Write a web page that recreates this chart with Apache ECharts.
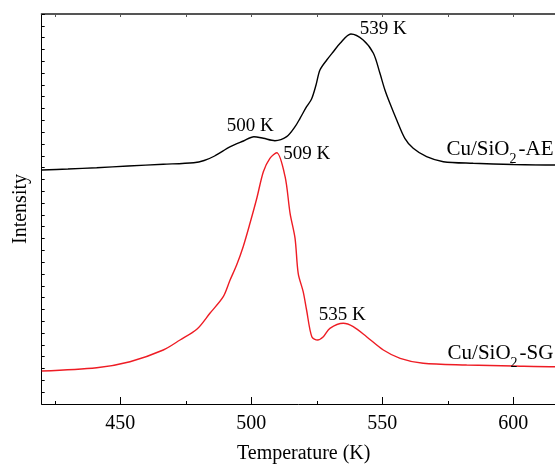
<!DOCTYPE html>
<html>
<head>
<meta charset="utf-8">
<script src="https://cdn.jsdelivr.net/npm/echarts@6/dist/echarts.min.js"></script>
<style>
html,body{margin:0;padding:0;background:#fff;}
#chart{width:555px;height:464px;}
</style>
</head>
<body>
<div id="chart"></div>
<script>
// ---- data ----
const xTickLabels = [450, 500, 550, 600];

const temperatureAE = [420, 430, 441, 453, 466.4, 478, 482, 486, 492, 497, 501, 504.6, 509, 513.5, 516.7, 518.6, 521.1, 523, 524.7, 526.2, 528.8, 531.3, 533.9, 538, 542.7, 546.6, 549.1, 551, 552.9, 555.5, 558.6, 561.8, 566.9, 573.3, 584.7, 600, 616, 620];
const intensityAE   = [234, 235, 236.3, 238, 239.7, 241.3, 243.5, 248, 257.3, 263, 267.3, 265.7, 263.3, 267.3, 277.3, 285.7, 297.3, 305, 319, 334, 344, 352.3, 360.7, 370, 364, 350.7, 330.7, 314, 300.7, 284, 265.7, 255.7, 247.3, 242.3, 240.7, 239.5, 239, 239];

const temperatureSG = [420, 441, 453.7, 466.4, 472.8, 479.2, 484.2, 489.3, 491.9, 494.4, 496.9, 499.5, 502.1, 504.6, 507.1, 509.7, 512.9, 514.8, 516.7, 517.9, 519.8, 521.1, 523.1, 525.3, 527.5, 530, 535.1, 538.9, 544, 550.4, 556.8, 565.6, 582.2, 600, 616, 620];
const intensitySG   = [33, 36.3, 42.3, 54, 64, 74.7, 90.7, 107.3, 124, 139, 157.3, 180.7, 205.7, 232.3, 245.7, 251.3, 227.3, 190.7, 165.7, 130.7, 112.3, 94, 67.3, 64, 67.3, 75.7, 80.7, 77.3, 67.3, 54, 45.7, 40.7, 39, 38, 37.3, 37.3];

const peakLabelsAE = ['500 K', '539 K'];
const peakTempsAE  = [501, 538];
const peakLabelsSG = ['509 K', '535 K'];
const peakTempsSG  = [509.7, 535.1];
const seriesNames  = ['AE', 'SG'];
const nameAnchorTemp = 600;

// ---- chart ----
const font = "'Liberation Serif', 'Times New Roman', serif";
const chart = echarts.init(document.getElementById('chart'), null, {renderer: 'canvas'});

function pairs(ts, vs) { return ts.map((t, i) => [t, vs[i]]); }
function at(ts, vs, t) { return [t, vs[ts.indexOf(t)]]; }

function peakMark(coord, text, align, offset) {
  return {
    coord: coord, symbol: 'circle', symbolSize: 0,
    label: {show: true, position: 'inside', formatter: text, align: align, verticalAlign: 'middle',
            offset: offset, fontFamily: font, fontSize: 19, color: '#000'}
  };
}
function nameMark(coord, suffix, offset) {
  return {
    coord: coord, symbol: 'circle', symbolSize: 0,
    label: {show: true, position: 'inside', align: 'center', verticalAlign: 'middle', offset: offset,
      formatter: '{a|Cu/SiO}{s|2}{a|-' + suffix + '}',
      rich: {
        a: {fontFamily: font, fontSize: 21, color: '#000', lineHeight: 27, verticalAlign: 'top'},
        s: {fontFamily: font, fontSize: 14, color: '#000', lineHeight: 14, verticalAlign: 'bottom', padding: [0, 2, 0, 0]}
      }}
  };
}

const option = {
  animation: false,
  backgroundColor: '#fff',
  grid: [
    {left: 41.7, right: -10.7, top: 14, bottom: 60, outerBoundsMode: 'none', containLabel: false},
    {left: -10.7, right: -89.3, top: 14, bottom: 60, outerBoundsMode: 'none', containLabel: false}
  ],
  xAxis: [
    {gridIndex: 0, type: 'value', min: 420, max: 620, position: 'bottom',
     axisLine: {show: true, onZero: false, lineStyle: {color: '#000', width: 1}},
     axisTick: {show: false}, axisLabel: {show: false}, splitLine: {show: false},
     name: 'Temperature (K)', nameLocation: 'middle', nameGap: 40,
     nameTextStyle: {fontFamily: font, fontSize: 20, color: '#000'}},
    {gridIndex: 0, type: 'value', min: 420, max: 620, position: 'top',
     axisLine: {show: true, onZero: false, lineStyle: {color: '#555', width: 2}},
     axisTick: {show: false}, axisLabel: {show: false}, splitLine: {show: false}},
    {gridIndex: 1, type: 'value', min: 400, max: 650, interval: 50, position: 'bottom',
     axisLine: {show: false, onZero: false},
     axisTick: {show: true, inside: true, length: 7, lineStyle: {color: '#000', width: 1}},
     minorTick: {show: true, splitNumber: 2, length: 3, lineStyle: {color: '#000', width: 1}},
     axisLabel: {show: true, margin: 10, fontFamily: font, fontSize: 20, color: '#000',
       formatter: v => xTickLabels.indexOf(v) >= 0 ? String(v) : ''},
     splitLine: {show: false}},
    {gridIndex: 1, type: 'value', min: 400, max: 650, interval: 25, position: 'top',
     axisLine: {show: false, onZero: false},
     axisTick: {show: true, inside: true, length: 3, lineStyle: {color: '#555', width: 1}},
     axisLabel: {show: false}, splitLine: {show: false}}
  ],
  yAxis: [
    {gridIndex: 0, type: 'value', min: 0, max: 390, interval: 390 / 33,
     axisLine: {show: true, onZero: false, lineStyle: {color: '#000', width: 1}},
     axisTick: {show: true, inside: true, length: 3, lineStyle: {color: '#000'}},
     axisLabel: {show: false}, splitLine: {show: false},
     name: 'Intensity', nameLocation: 'middle', nameGap: 11,
     nameTextStyle: {fontFamily: font, fontSize: 20, color: '#000'}},
    {gridIndex: 1, type: 'value', min: 0, max: 1, show: false}
  ],
  series: [
    {name: seriesNames[0], type: 'line', xAxisIndex: 0, yAxisIndex: 0,
     data: pairs(temperatureAE, intensityAE), symbol: 'none', showSymbol: false,
     smooth: 0.3,
     lineStyle: {color: '#000', width: 1.4}, silent: true,
     markPoint: {silent: true, data: [
       peakMark(at(temperatureAE, intensityAE, peakTempsAE[0]), peakLabelsAE[0], 'center', [-3.6, -10.7]),
       peakMark(at(temperatureAE, intensityAE, peakTempsAE[1]), peakLabelsAE[1], 'left', [9, -5]),
       nameMark(at(temperatureAE, intensityAE, nameAnchorTemp), seriesNames[0], [-13.3, -12])
     ]}},
    {name: seriesNames[1], type: 'line', xAxisIndex: 0, yAxisIndex: 0,
     data: pairs(temperatureSG, intensitySG), symbol: 'none', showSymbol: false,
     smooth: 0.3,
     lineStyle: {color: '#ee1c24', width: 1.4}, silent: true,
     markPoint: {silent: true, data: [
       peakMark(at(temperatureSG, intensitySG, peakTempsSG[0]), peakLabelsSG[0], 'left', [6.6, 1.5]),
       peakMark(at(temperatureSG, intensitySG, peakTempsSG[1]), peakLabelsSG[1], 'center', [-1, -8]),
       nameMark(at(temperatureSG, intensitySG, nameAnchorTemp), seriesNames[1], [-12.8, -9.5])
     ]}}
  ]
};
chart.setOption(option);
</script>
</body>
</html>
